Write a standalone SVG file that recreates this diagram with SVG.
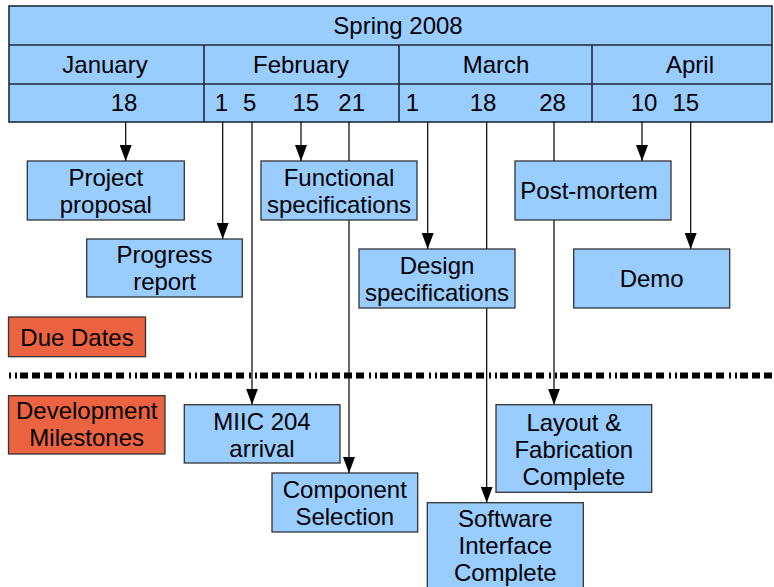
<svg xmlns="http://www.w3.org/2000/svg" width="774" height="587" viewBox="0 0 774 587">
<defs>
<style>
text{font-family:"Liberation Sans",Arial,sans-serif;font-size:24px;fill:#000;text-anchor:middle}
.hdr{fill:#99ccff;stroke:#1e2a3a;stroke-width:1.6}
.box{fill:#99ccff;stroke:#333;stroke-width:1.3}
.red{fill:#eb6341;stroke:#333;stroke-width:1.3}
.con{stroke:#000;stroke-width:1.2;fill:none;marker-end:url(#ah)}
</style>
<marker id="ah" markerUnits="userSpaceOnUse" markerWidth="16" markerHeight="12" refX="16" refY="6" orient="auto">
<path d="M0,0 L16,6 L0,12 z" fill="#000"/>
</marker>
</defs>
<rect width="774" height="587" fill="#fff"/>

<g id="header">
<rect class="hdr" x="9" y="6" width="763" height="116"/>
<line x1="9" y1="45" x2="772" y2="45" stroke="#1e2a3a" stroke-width="1.6"/>
<line x1="9" y1="84" x2="772" y2="84" stroke="#1e2a3a" stroke-width="1.6"/>
<line x1="204" y1="45" x2="204" y2="122" stroke="#1e2a3a" stroke-width="1.6"/>
<line x1="399" y1="45" x2="399" y2="122" stroke="#1e2a3a" stroke-width="1.6"/>
<line x1="592" y1="45" x2="592" y2="122" stroke="#1e2a3a" stroke-width="1.6"/>
<text x="398" y="34">Spring 2008</text>
<text x="105" y="73">January</text>
<text x="301" y="73">February</text>
<text x="496" y="73">March</text>
<text x="690" y="73">April</text>
<text x="124" y="111">18</text>
<text x="221.5" y="111">1</text>
<text x="249.7" y="111">5</text>
<text x="305.8" y="111">15</text>
<text x="351.7" y="111">21</text>
<text x="412.5" y="111">1</text>
<text x="483" y="111">18</text>
<text x="552.5" y="111">28</text>
<text x="644" y="111">10</text>
<text x="685.8" y="111">15</text>
</g>

<g id="divider">
<line x1="9" y1="375.5" x2="772" y2="375.5" stroke="#000" stroke-width="6" stroke-dasharray="2 4 2 3 8 4 8 4 8 4 8 5"/>
</g>

<g id="connectors">
<line class="con" x1="125.7" y1="122" x2="125.7" y2="161"/>
<line class="con" x1="222.7" y1="122" x2="222.7" y2="239"/>
<line class="con" x1="252" y1="122" x2="252" y2="404.7"/>
<line class="con" x1="301" y1="122" x2="301" y2="161"/>
<line class="con" x1="349" y1="122" x2="349" y2="473"/>
<line class="con" x1="427.7" y1="122" x2="427.7" y2="249"/>
<line class="con" x1="486.7" y1="122" x2="486.7" y2="502.7"/>
<line class="con" x1="554" y1="122" x2="554" y2="404.7"/>
<line class="con" x1="642" y1="122" x2="642" y2="161"/>
<line class="con" x1="690.7" y1="122" x2="690.7" y2="249"/>
</g>

<g id="project-proposal">
<rect class="box" x="27.3" y="161" width="157" height="59"/>
<text x="105.8" y="185.5">Project</text>
<text x="105.8" y="212.5">proposal</text>
</g>
<g id="progress-report">
<rect class="box" x="86.7" y="239" width="155.6" height="58"/>
<text x="164.5" y="263">Progress</text>
<text x="164.5" y="290">report</text>
</g>
<g id="functional-specifications">
<rect class="box" x="261" y="161" width="156" height="59"/>
<text x="339" y="185.5">Functional</text>
<text x="339" y="212.5">specifications</text>
</g>
<g id="design-specifications">
<rect class="box" x="359" y="249" width="156" height="59"/>
<text x="437" y="273.5">Design</text>
<text x="437" y="300.5">specifications</text>
</g>
<g id="post-mortem">
<rect class="box" x="515" y="161" width="156" height="59"/>
<text x="589" y="199">Post-mortem</text>
</g>
<g id="demo">
<rect class="box" x="573.7" y="249" width="156" height="59"/>
<text x="651.7" y="287">Demo</text>
</g>
<g id="due-dates">
<rect class="red" x="8.5" y="317" width="137" height="39.7"/>
<text x="77" y="345.5">Due Dates</text>
</g>
<g id="development-milestones">
<rect class="red" x="8.5" y="395.7" width="156.5" height="58.3"/>
<text x="86.7" y="418.5">Development</text>
<text x="86.7" y="445.5">Milestones</text>
</g>
<g id="miic-204-arrival">
<rect class="box" x="184.3" y="404.7" width="155.7" height="58.3"/>
<text x="262" y="429.5">MIIC 204</text>
<text x="262" y="456.5">arrival</text>
</g>
<g id="component-selection">
<rect class="box" x="272" y="473" width="145.7" height="59"/>
<text x="344.8" y="497.5">Component</text>
<text x="344.8" y="524.5">Selection</text>
</g>
<g id="layout-fabrication">
<rect class="box" x="496" y="404.7" width="155.7" height="87.6"/>
<text x="573.8" y="430.5">Layout &amp;</text>
<text x="573.8" y="457.5">Fabrication</text>
<text x="573.8" y="484.5">Complete</text>
</g>
<g id="software-interface">
<rect class="box" x="427.3" y="502.7" width="156" height="88"/>
<text x="505.3" y="527.3">Software</text>
<text x="505.3" y="554.3">Interface</text>
<text x="505.3" y="581.3">Complete</text>
</g>
</svg>
